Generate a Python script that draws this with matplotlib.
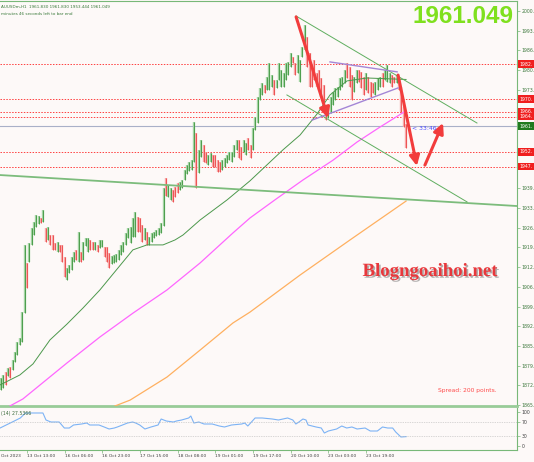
import numpy as np
import matplotlib.pyplot as plt
import matplotlib.patheffects as pe
from matplotlib.transforms import blended_transform_factory

# XAUUSDm H1 - velas
opens = [1871.3, 1871.9, 1876.4, 1876.1, 1878.1, 1878.1, 1880.8, 1883.2, 1886.7, 1887.7,
         1897.6, 1913.7, 1915.1, 1920.9, 1924.3, 1927.0, 1928.1, 1929.1, 1928.7, 1925.7,
         1922.6, 1923.3, 1923.3, 1920.5, 1918.5, 1919.9, 1919.9, 1915.8, 1908.9, 1911.3,
         1912.3, 1915.1, 1918.2, 1915.1, 1917.5, 1915.7, 1920.5, 1918.5, 1921.6, 1920.9,
         1919.2, 1919.9, 1919.8, 1920.2, 1919.2, 1919.2, 1917.1, 1914.4, 1914.7, 1915.1,
         1915.7, 1917.5, 1918.5, 1920.9, 1923.3, 1921.6, 1923.6, 1923.6, 1929.4, 1929.1,
         1926.7, 1922.6, 1924.3, 1920.9, 1921.9, 1923.3, 1923.9, 1924.3, 1925.0, 1927.4,
         1942.8, 1937.3, 1936.3, 1938.7, 1939.7, 1941.1, 1939.7, 1940.4, 1943.1, 1945.2,
         1946.2, 1946.5, 1949.3, 1958.2, 1945.5, 1951.0, 1954.1, 1951.7, 1948.2, 1949.3,
         1950.7, 1950.7, 1948.9, 1948.3, 1946.5, 1947.6, 1948.9, 1949.9, 1949.3, 1951.0,
         1953.4, 1955.8, 1953.4, 1952.7, 1951.7, 1956.5, 1954.1, 1953.4, 1960.2, 1962.6,
         1970.5, 1972.2, 1974.6, 1973.9, 1973.9, 1974.9, 1976.3, 1974.6, 1977.3, 1974.9,
         1974.9, 1977.3, 1979.0, 1981.8, 1984.2, 1982.1, 1979.7, 1976.6, 1985.2, 1987.6,
         1991.0, 1985.6, 1981.4, 1983.2, 1978.7, 1979.7, 1977.0, 1974.6, 1967.8, 1964.3,
         1966.0, 1968.8, 1970.5, 1971.5, 1973.9, 1974.9, 1976.3, 1982.1, 1980.8, 1978.0,
         1973.2, 1976.3, 1979.7, 1979.1, 1977.3, 1973.9, 1977.3, 1975.6, 1975.3, 1972.2,
         1973.9, 1974.9, 1978.7, 1977.3, 1976.6, 1976.3, 1978.0, 1977.3, 1976.3, 1977.3,
         1973.9, 1967.1, 1961.83]
highs = [1874.9, 1875.9, 1876.9, 1878.3, 1878.6, 1881.0, 1883.8, 1887.2, 1888.6, 1897.5,
         1920.4, 1914.2, 1921.0, 1926.2, 1928.2, 1930.6, 1930.3, 1929.6, 1932.3, 1926.2,
         1926.5, 1923.8, 1923.8, 1921.0, 1921.4, 1920.4, 1920.4, 1916.3, 1912.5, 1913.5,
         1916.3, 1918.0, 1918.7, 1924.8, 1918.0, 1921.4, 1922.8, 1922.8, 1922.1, 1921.4,
         1921.4, 1920.4, 1922.1, 1922.1, 1919.7, 1919.7, 1917.6, 1916.6, 1917.0, 1917.3,
         1918.7, 1920.4, 1921.4, 1924.5, 1926.2, 1926.5, 1929.6, 1931.7, 1929.9, 1929.6,
         1927.2, 1926.2, 1924.8, 1923.1, 1924.5, 1924.8, 1925.5, 1926.2, 1927.9, 1939.9,
         1943.3, 1940.9, 1939.9, 1939.2, 1940.2, 1941.6, 1941.9, 1942.6, 1946.0, 1947.7,
         1948.8, 1949.4, 1962.4, 1958.7, 1952.9, 1956.3, 1954.6, 1952.2, 1951.2, 1951.8,
         1951.2, 1951.2, 1949.4, 1948.8, 1949.4, 1950.1, 1951.2, 1952.2, 1952.2, 1954.6,
         1956.3, 1956.3, 1953.9, 1956.3, 1955.3, 1957.0, 1954.6, 1960.4, 1964.2, 1971.0,
         1974.1, 1975.8, 1975.1, 1977.8, 1982.6, 1978.5, 1976.8, 1976.8, 1982.6, 1980.2,
         1979.2, 1982.6, 1983.0, 1986.1, 1984.7, 1982.6, 1985.4, 1983.7, 1988.1, 1995.6,
         1991.5, 1986.1, 1981.9, 1983.7, 1979.2, 1980.2, 1977.5, 1975.1, 1968.3, 1967.2,
         1971.0, 1972.7, 1974.1, 1974.4, 1977.5, 1977.8, 1980.2, 1982.6, 1981.3, 1978.5,
         1977.8, 1980.2, 1980.2, 1979.6, 1977.8, 1979.2, 1977.8, 1976.1, 1975.8, 1976.1,
         1977.5, 1977.8, 1979.2, 1980.2, 1981.9, 1979.2, 1978.5, 1977.8, 1978.5, 1977.8,
         1974.4, 1967.6, 1961.83]
lows = [1870.8, 1871.4, 1872.5, 1875.6, 1874.9, 1877.6, 1880.3, 1882.7, 1886.2, 1887.2,
        1897.1, 1905.7, 1914.6, 1920.4, 1923.8, 1926.5, 1927.6, 1927.9, 1928.2, 1921.4,
        1922.1, 1920.4, 1918.7, 1918.7, 1918.0, 1918.0, 1914.6, 1909.4, 1908.4, 1910.8,
        1911.8, 1914.6, 1915.2, 1914.6, 1914.6, 1915.2, 1920.0, 1918.0, 1918.7, 1918.7,
        1918.7, 1918.0, 1919.3, 1919.7, 1916.3, 1914.6, 1912.5, 1913.9, 1914.2, 1914.6,
        1915.2, 1917.0, 1918.0, 1920.4, 1922.8, 1921.1, 1923.1, 1923.1, 1924.8, 1924.8,
        1921.4, 1922.1, 1920.4, 1920.4, 1921.4, 1922.8, 1923.4, 1923.8, 1924.5, 1926.9,
        1937.1, 1936.8, 1935.8, 1935.1, 1936.8, 1938.2, 1939.2, 1939.9, 1942.6, 1944.7,
        1945.7, 1946.0, 1948.8, 1939.9, 1945.0, 1950.5, 1948.8, 1948.4, 1947.7, 1948.8,
        1947.1, 1947.1, 1945.3, 1945.3, 1946.0, 1947.1, 1948.4, 1949.4, 1948.8, 1950.5,
        1952.9, 1950.1, 1949.4, 1952.2, 1951.2, 1952.9, 1950.1, 1952.9, 1959.7, 1962.1,
        1970.0, 1971.7, 1972.4, 1973.4, 1973.4, 1974.4, 1971.7, 1974.1, 1976.8, 1974.4,
        1974.4, 1976.8, 1978.5, 1981.3, 1982.6, 1978.5, 1979.2, 1976.1, 1984.7, 1987.1,
        1981.3, 1974.4, 1974.4, 1976.8, 1974.4, 1973.4, 1971.0, 1965.9, 1963.1, 1963.8,
        1965.5, 1968.3, 1970.0, 1971.0, 1973.4, 1974.4, 1975.8, 1977.5, 1974.4, 1970.0,
        1972.7, 1975.8, 1976.1, 1974.1, 1971.7, 1973.4, 1972.4, 1971.0, 1972.4, 1971.7,
        1973.4, 1974.4, 1974.4, 1976.8, 1976.1, 1975.8, 1974.4, 1975.8, 1975.8, 1973.4,
        1965.9, 1960.7, 1953.444]
closes = [1874.4, 1875.4, 1873.0, 1877.8, 1875.4, 1880.5, 1883.3, 1886.7, 1888.1, 1897.0,
          1919.9, 1906.2, 1920.5, 1925.7, 1927.7, 1930.1, 1929.8, 1928.4, 1931.8, 1921.9,
          1926.0, 1920.9, 1919.2, 1919.2, 1920.9, 1918.5, 1915.1, 1909.9, 1912.0, 1913.0,
          1915.8, 1917.5, 1915.7, 1924.3, 1915.1, 1920.9, 1922.3, 1922.3, 1919.2, 1919.2,
          1920.9, 1918.5, 1921.6, 1921.6, 1916.8, 1915.1, 1913.0, 1916.1, 1916.5, 1916.8,
          1918.2, 1919.9, 1920.9, 1924.0, 1925.7, 1926.0, 1929.1, 1931.2, 1925.3, 1925.3,
          1921.9, 1925.7, 1920.9, 1922.6, 1924.0, 1924.3, 1925.0, 1925.7, 1927.4, 1939.4,
          1937.6, 1940.4, 1939.4, 1935.6, 1937.3, 1938.7, 1941.4, 1942.1, 1945.5, 1947.2,
          1948.3, 1948.9, 1961.9, 1940.4, 1952.4, 1955.8, 1949.3, 1948.9, 1950.7, 1951.3,
          1947.6, 1947.6, 1945.8, 1945.8, 1948.9, 1949.6, 1950.7, 1951.7, 1951.7, 1954.1,
          1955.8, 1950.6, 1949.9, 1955.8, 1954.8, 1953.4, 1950.6, 1959.9, 1963.7, 1970.5,
          1973.6, 1975.3, 1972.9, 1977.3, 1982.1, 1978.0, 1972.2, 1976.3, 1982.1, 1979.7,
          1978.7, 1982.1, 1982.5, 1985.6, 1983.1, 1979.0, 1984.9, 1983.2, 1987.6, 1995.1,
          1981.8, 1974.9, 1974.9, 1977.3, 1974.9, 1973.9, 1971.5, 1966.4, 1963.6, 1966.7,
          1970.5, 1972.2, 1973.6, 1973.9, 1977.0, 1977.3, 1979.7, 1978.0, 1974.9, 1970.5,
          1977.3, 1979.7, 1976.6, 1974.6, 1972.2, 1978.7, 1972.9, 1971.5, 1972.9, 1975.6,
          1977.0, 1977.3, 1974.9, 1979.7, 1981.4, 1978.7, 1974.9, 1976.3, 1978.0, 1973.9,
          1966.4, 1961.2, 1961.049]

# medias moviles (barra, precio)
ma_green_x = [-0.4, 8, 13.6, 20.8, 28, 34.8, 42, 56, 62, 68.8, 73.9, 77.3, 84.5, 96, 105.7,
              119.7, 127, 134.2, 139.7, 146.9, 155.4, 172]
ma_green_y = [1872.5, 1875.9, 1879.7, 1887.9, 1893.3, 1898.8, 1905.0, 1918.7, 1920.4, 1920.4,
              1922.1, 1923.8, 1928.9, 1935.8, 1942.3, 1952.9, 1958.0, 1965.2, 1971.7, 1976.5,
              1977.5, 1977.0]
ma_pink_x = [3.8, 9.3, 28, 42, 56.1, 70.5, 84.5, 98.5, 105.7, 116.3, 128.2, 141, 151.2, 160.9, 172]
ma_pink_y = [1865.3, 1867.7, 1880.0, 1888.9, 1897.1, 1905.0, 1914.2, 1924.5, 1929.6, 1935.8,
             1942.6, 1949.4, 1955.6, 1960.7, 1966.3]
ma_orange_x = [48.4, 54.8, 70.5, 84.5, 98.5, 105.7, 127, 148.2, 172]
ma_orange_y = [1865.3, 1867.3, 1875.2, 1884.4, 1893.7, 1897.4, 1910.1, 1922.1, 1935.4]

# RSI(14)
rsi_x = [-0.4, 4.8, 8.2, 10.4, 17.8, 19.1, 21.2, 24.7, 26.9, 29.0, 30.8, 34.2, 36.4, 37.7, 41.6,
         43.8, 45.9, 48.1, 49.4, 51.6, 53.7, 55.9, 57.2, 58.9, 61.1, 63.7, 66.7, 68.0, 70.2, 73.2,
         74.5, 76.7, 79.7, 80.6, 81.9, 84.0, 86.2, 89.7, 92.7, 94.9, 97.9, 102.2, 103.5, 104.8,
         107.9, 110.9, 115.2, 117.8, 121.7, 123.9, 125.2, 126.5, 128.2, 129.5, 130.4, 133.8,
         136.0, 137.3, 139.0, 142.5, 144.7, 146.8, 149.0, 151.2, 154.6, 156.8, 159.8, 162.0,
         164.2, 166.3, 167.6, 169.8, 172]
rsi_v = [52.9, 70.6, 82.4, 97.1, 97.1, 76.5, 70.6, 70.6, 52.9, 52.9, 61.8, 64.7, 67.6, 61.8, 61.8,
         55.9, 50.0, 52.9, 55.9, 61.8, 67.6, 70.6, 67.6, 61.8, 50.0, 55.9, 61.8, 79.4, 73.5, 70.6,
         73.5, 76.5, 82.4, 88.2, 67.6, 70.6, 64.7, 64.7, 58.8, 55.9, 61.8, 64.7, 67.6, 58.8,
         82.4, 82.4, 79.4, 76.5, 82.4, 76.5, 64.7, 70.6, 79.4, 76.5, 61.8, 55.9,
         52.9, 38.2, 44.1, 50.0, 58.8, 52.9, 55.9, 50.0, 52.9, 44.1, 44.1, 55.9,
         52.9, 52.9, 41.2, 26.5, 27.5]

# niveles y lineas dibujadas
red_levels = [1982.2, 1970.3, 1966.0, 1964.3, 1952.3, 1947.2]
bid = 1961.049
price_ticks = [1865.62, 1872.36, 1879.10, 1885.84, 1892.58, 1899.32, 1906.06, 1912.80, 1919.54,
               1926.28, 1933.02, 1939.76, 1973.46, 1980.20, 1986.94, 1993.68, 2000.42]
trend_long = ([-0.4, 219.1], [1944.3, 1933.7])
chan_upper = ([125.3, 202.1], [1998.7, 1962.1])
chan_lower = ([121.4, 197.9], [1971.7, 1935.1])
wedge_upper = ([139.7, 168.2], [1983.0, 1979.6])
wedge_lower = ([132.1, 168.6], [1963.1, 1974.1])
arrows = [((125.3, 1998.4), (138.9, 1963.8)),
          ((168.6, 1978.5), (176.6, 1947.4)),
          ((180.0, 1947.7), (187.7, 1962.1))]
date_idx = [11, 27, 43, 59, 75, 91, 107, 123, 139, 155]
date_lbl = ["13 Oct 13:00", "16 Oct 06:00", "16 Oct 23:00", "17 Oct 15:00", "18 Oct 08:00",
            "19 Oct 01:00", "19 Oct 17:00", "20 Oct 10:00", "23 Oct 03:00", "23 Oct 19:00"]

bg = '#fdf9f8'
grn = '#78b878'
lab = '#3f7a3f'
W, H = 534, 462

fig = plt.figure(figsize=(W / 100, H / 100), dpi=100, facecolor=bg)
ax = fig.add_axes([0, 1 - 406 / H, 517 / W, 405 / H], facecolor=bg)
rs = fig.add_axes([0, 1 - 450 / H, 517 / W, 42 / H], facecolor=bg)

x0, x1 = -0.425, 219.1
ax.set_xlim(x0, x1)
ax.set_ylim(1865.29, 2003.84)
rs.set_xlim(x0, x1)
rs.set_ylim(-11.8, 111.8)

# velas (barras)
idx = np.arange(len(closes))
up = np.array(closes) >= np.array(opens)
ax.vlines(idx, lows, highs, colors=np.where(up, '#a3d3a3', '#f7a8a8'), lw=1.7, zorder=3)
ax.vlines(idx, lows, highs, colors=np.where(up, '#3f963f', '#ec4545'), lw=0.6, zorder=4)

for lv in red_levels:
    ax.axhline(lv, color='#ff4040', ls=(0, (1.5, 1.5)), lw=0.7, zorder=2)
ax.axhline(bid, color='#a9b0c8', lw=0.8, zorder=2)

ax.plot(ma_green_x, ma_green_y, color='#4c984c', lw=0.7, zorder=5)
ax.plot(ma_pink_x, ma_pink_y, color='#ff66ff', lw=0.9, zorder=5)
ax.plot(ma_orange_x, ma_orange_y, color='#ffb060', lw=0.9, zorder=5)

ax.plot(*trend_long, color='#7cbc7c', lw=1.3, zorder=5)
ax.plot(*chan_upper, color='#5fae5f', lw=0.7, zorder=5)
ax.plot(*chan_lower, color='#5fae5f', lw=0.7, zorder=5)
ax.plot(*wedge_upper, color='#a486d6', lw=1.0, zorder=5)
ax.plot(*wedge_lower, color='#a486d6', lw=1.0, zorder=5)
for start, end in arrows:
    ax.annotate('', xy=end, xytext=start, zorder=6,
                arrowprops=dict(arrowstyle='-|>,head_length=0.6,head_width=0.3',
                                color='#f23c3c', lw=2.2, shrinkA=0, shrinkB=0))

# eje de precios a la derecha (etiquetas recortadas como en MT4)
for a in (ax, rs):
    for s in a.spines.values():
        s.set_color(grn)
        s.set_linewidth(0.8)
    a.spines['left'].set_visible(False)
ax.spines['bottom'].set_color('#98cc98')
ax.spines['bottom'].set_linewidth(2)
rs.spines['top'].set_visible(False)

ax.set_xticks([])
ax.yaxis.tick_right()
ax.set_yticks(price_ticks, [f"{int(v)}." for v in price_ticks])
ax.tick_params(axis='y', direction='out', length=2, width=0.5, color=grn,
               labelsize=3.3, labelcolor=lab, pad=1.5)

tr = blended_transform_factory(ax.transAxes, ax.transData)
for lv in red_levels:
    ax.text(1.005, lv, f"{int(lv)}.", transform=tr, fontsize=3.3, color='white', va='center',
            ha='left', clip_on=False, zorder=10,
            bbox=dict(boxstyle='square,pad=0.3', fc='#f01e1e', ec='none'))
ax.text(1.005, bid, f"{int(bid)}.", transform=tr, fontsize=3.3, color='white', va='center',
        ha='left', clip_on=False, zorder=10,
        bbox=dict(boxstyle='square,pad=0.3', fc='#1f7a1f', ec='none'))

# RSI
rs.plot(rsi_x, rsi_v, color='#7db3f5', lw=0.8)
for lv in (70, 30):
    rs.axhline(lv, color='#b4b4b4', ls=(0, (1, 1.5)), lw=0.5)
rs.yaxis.tick_right()
rs.set_yticks([100, 70, 30, 0], ['100', '70', '30', '0'])
rs.tick_params(axis='y', direction='out', length=2, width=0.5, color=grn,
               labelsize=3.3, labelcolor='#404040', pad=1.5)
rs.set_xticks(date_idx, date_lbl)
rs.tick_params(axis='x', direction='out', length=2, width=0.5, color=grn,
               labelsize=3.2, labelcolor='#404040', pad=1)
plt.setp(rs.get_xticklabels(), ha='left')
rs.text(0.001, -0.098, "Oct 2023", transform=rs.transAxes,
        fontsize=3.2, color='#404040', ha='left', va='top', clip_on=False)
rs.text(0.001, 0.93, "(14) 27.5366", transform=rs.transAxes, fontsize=3.3, color='#3a6a3a',
        ha='left', va='top')

# textos
fig.text(0.001, 1 - 7 / H, "AUUSDm,H1  1961.830 1961.830 1953.444 1961.049", fontsize=3.0,
         color='#3a7a3a', ha='left', va='center')
fig.text(0.001, 1 - 14 / H, "minutes 46 seconds left to bar end", fontsize=3.0,
         color='#3a7a3a', ha='left', va='center')
fig.text(514 / W, 1 - 5 / H, "1961.049", ha='right', va='top', fontsize=17.5, fontweight='bold',
         family='Liberation Sans', color='#7fe01e')
ax.text(174.6, 1960.1, "< 33:46", fontsize=4.4, color='#4a4aff', ha='left', va='center', zorder=7)
ax.text(185.6, 1870.6, "Spread: 200 points.", fontsize=4.3, color='#ff4a4a', ha='left',
        va='center', zorder=7)
ax.text(182.2, 1911.3, "Blogngoaihoi.net", family='Liberation Serif', fontweight='bold',
        fontsize=13.5, color='#e8383c', ha='center', va='center', zorder=7,
        path_effects=[pe.withSimplePatchShadow(offset=(1.2, -1.2), shadow_rgbFace='#666666',
                                               alpha=0.5)])

fig.savefig('out.png', dpi=100, facecolor=bg)
